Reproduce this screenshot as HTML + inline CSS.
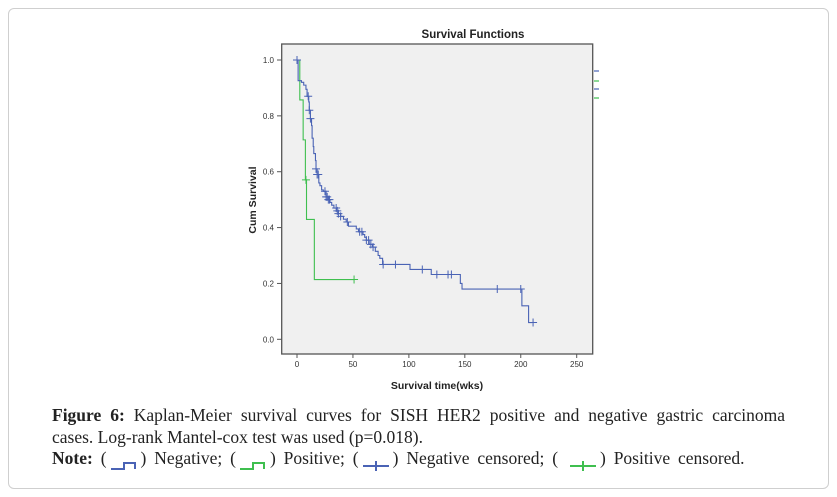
<!DOCTYPE html>
<html><head><meta charset="utf-8"><style>
body{margin:0;width:837px;height:497px;background:#fff;position:relative;overflow:hidden;font-family:"Liberation Sans",sans-serif}
#frame{position:absolute;left:8px;top:8px;width:819px;height:479px;border:1px solid #cfcfcf;border-radius:6px}
#cap{position:absolute;left:52px;top:405px;width:733px;font-family:"Liberation Serif",serif;font-size:17.5px;line-height:21.5px;color:#222;white-space:nowrap}
#l1{text-align:justify;text-align-last:justify}
#l3{word-spacing:3.5px}
.sw{display:inline-block;width:34px;height:10px;vertical-align:middle;position:relative}
</style></head><body>
<div id="frame"></div>
<svg id="chart" width="837" height="400" style="position:absolute;left:0;top:0"></svg>
<div id="cap"><div id="l1"><b>Figure 6:</b> Kaplan-Meier survival curves for SISH HER2 positive and negative gastric carcinoma</div><div>cases. Log-rank Mantel-cox test was used (p=0.018).</div><div id="l3"><b>Note:</b> (<span class="sw"><svg width="34" height="10"><polyline points="4,8 17,8 17,2 28,2 28,8" fill="none" stroke="#4a63b5" stroke-width="2"/></svg></span>) Negative; (<span class="sw"><svg width="34" height="10"><polyline points="4,8 17,8 17,2 28,2 28,8" fill="none" stroke="#3fbf4f" stroke-width="2"/></svg></span>) Positive; (<span class="sw"><svg width="34" height="10"><path d="M4,5H30M17,0V10" stroke="#4a63b5" stroke-width="2"/></svg></span>) Negative censored; ( <span class="sw"><svg width="34" height="10"><path d="M4,5H30M17,0V10" stroke="#3fbf4f" stroke-width="2"/></svg></span>) Positive censored.</div></div>
<script>
const xTicks=[0,50,100,150,200,250];
const yTicks=[0.0,0.2,0.4,0.6,0.8,1.0];
const negTimes=[0,1,4,6,8,9,10.5,11,12,13,13.5,14.5,15,16.5,17,18,19.5,20.5,22,23.5,26,28,29.5,31,33,35.5,37,39,41.5,44,46,53,55,59,60.5,62,64.5,67.5,70,72.5,74,76.5,101,120,146,147.5,201,207,210];
const negSurv=[1.0,0.926,0.92,0.91,0.895,0.87,0.85,0.82,0.79,0.765,0.72,0.69,0.665,0.64,0.61,0.59,0.56,0.55,0.535,0.53,0.51,0.5,0.49,0.48,0.47,0.46,0.45,0.44,0.43,0.42,0.405,0.395,0.385,0.375,0.365,0.355,0.34,0.33,0.315,0.3,0.29,0.268,0.25,0.232,0.2,0.18,0.12,0.06,0.06];
const negCensor=[0,10,11,12,17,18,19,25,26,27,28,29,35,36,37,39,45,56,58,62,64,66,68,77,88,112,125,135,138,179,200,211];
const posTimes=[0,2.5,5.5,7.5,8.5,15.5,51];
const posSurv=[1.0,0.857,0.714,0.571,0.429,0.214,0.214];
const posCensor=[8,51];
const svg=document.getElementById('chart');const NS='http://www.w3.org/2000/svg';
const X=t=>297+t*(576.7-297)/250, Y=v=>339.3-v*279.3;
function mk(tag,at,txt){const e=document.createElementNS(NS,tag);for(const k in at)e.setAttribute(k,at[k]);if(txt!==undefined)e.textContent=txt;svg.appendChild(e);return e;}
let e=mk('rect',{x:281.7,y:44,width:311,height:310,fill:'#f0f0f0',stroke:'#555','stroke-width':1.3});

e=mk('text',{x:473,y:38,'text-anchor':'middle','font-size':11.5,'font-weight':'bold',fill:'#222'},'Survival Functions');

e=mk('text',{x:437,y:389,'text-anchor':'middle','font-size':10.5,'font-weight':'bold',fill:'#222'},'Survival time(wks)');

e=mk('text',{x:256,y:200,'text-anchor':'middle','font-size':10.5,'font-weight':'bold',fill:'#222',transform:'rotate(-90 256 200)'},'Cum Survival');

xTicks.forEach(t=>{mk('line',{x1:X(t),x2:X(t),y1:354,y2:358,stroke:'#555'});
e=mk('text',{x:X(t),y:367,'text-anchor':'middle','font-size':8,fill:'#333'},String(t));
});
yTicks.forEach(v=>{mk('line',{x1:277,x2:281.7,y1:Y(v),y2:Y(v),stroke:'#555'});
e=mk('text',{x:274,y:Y(v)+3,'text-anchor':'end','font-size':8,fill:'#333'},v.toFixed(1));
});
function step(ts,vs,col,name){let d='M'+X(ts[0])+','+Y(vs[0]);for(let i=1;i<ts.length;i++){d+='H'+X(ts[i])+'V'+Y(vs[i]);}
const p=mk('path',{d:d,fill:'none',stroke:col,'stroke-width':1.1});}
function sAt(ts,vs,t){let v=vs[0];for(let i=0;i<ts.length;i++){if(ts[i]<=t)v=vs[i];}return v;}
function cens(cs,ts,vs,col,name){cs.forEach(t=>{const v=sAt(ts,vs,t);const p=mk('path',{d:`M${X(t)-4},${Y(v)}H${X(t)+4}M${X(t)},${Y(v)-4}V${Y(v)+4}`,stroke:col,'stroke-width':1});
});}
step(posTimes,posSurv,'#3fbf4f','positive-curve');
step(negTimes,negSurv,'#4a63b5','negative-curve');
cens(posCensor,posTimes,posSurv,'#3fbf4f','positive-censor-mark');
cens(negCensor,negTimes,negSurv,'#4a63b5','negative-censor-mark');
[['#4a63b5',71],['#3fbf4f',81],['#4a63b5',89],['#3fbf4f',98]].forEach(a=>{e=mk('line',{x1:594,x2:599,y1:a[1],y2:a[1],stroke:a[0],'stroke-width':1.2});
});
</script>
</body></html>
